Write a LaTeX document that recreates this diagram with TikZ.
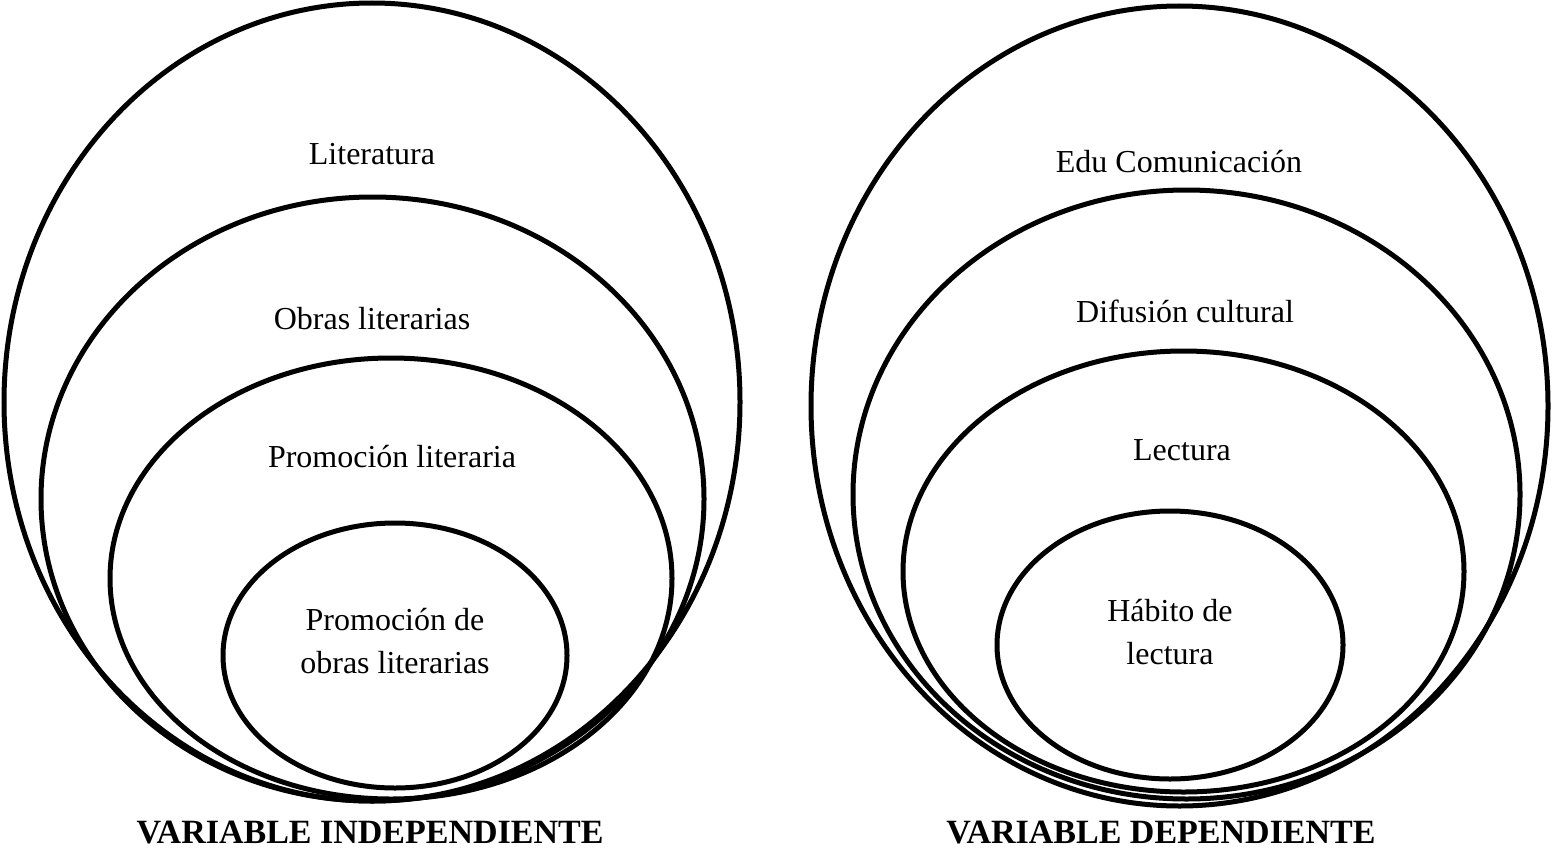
\documentclass[tikz,border=0pt]{standalone}
\usepackage{fontspec}
\setmainfont{Liberation Serif}
\begin{document}
\begin{tikzpicture}[x=1pt,y=-1pt,
  ring/.style={draw=black,line width=5pt},
  lbl/.style={font=\fontsize{32}{43}\selectfont,align=center,inner sep=0pt},
  ttl/.style={font=\fontsize{34}{40}\selectfont\bfseries,inner sep=0pt}]
\useasboundingbox[fill=white] (0,0) rectangle (1552,851);
% left set
\draw[ring] (372,402) ellipse [x radius=368pt, y radius=399pt];
\draw[ring] (372.5,499) ellipse [x radius=331.5pt, y radius=302pt];
\draw[ring] (391,578.5) ellipse [x radius=281pt, y radius=220.5pt];
\draw[ring] (395,655.5) ellipse [x radius=172pt, y radius=132.5pt];
% right set
\draw[ring] (1179.5,406) ellipse [x radius=368.5pt, y radius=400pt];
\draw[ring] (1186.5,494.5) ellipse [x radius=333.5pt, y radius=304.5pt];
\draw[ring] (1183.5,571.5) ellipse [x radius=280.5pt, y radius=220.5pt];
\draw[ring] (1170,645) ellipse [x radius=173pt, y radius=134pt];
% labels
\node[lbl] (lit) at (372,154) {Literatura};
\node[lbl] (obras) at (372,319) {Obras literarias};
\node[lbl] (prom) at (392,457) {Promoción literaria};
\node[lbl] (promobras) at (395,641) {Promoción de\\obras literarias};
\node[lbl] (edu) at (1179,162) {Edu Comunicación};
\node[lbl] (dif) at (1185,311) {Difusión cultural};
\node[lbl] (lec) at (1182,450) {Lectura};
\node[lbl] (hab) at (1170,632) {Hábito de\\lectura};
\node[ttl] (vi) at (370,833) {VARIABLE INDEPENDIENTE};
\node[ttl] (vd) at (1161,833) {VARIABLE DEPENDIENTE};
\end{tikzpicture}
\end{document}
